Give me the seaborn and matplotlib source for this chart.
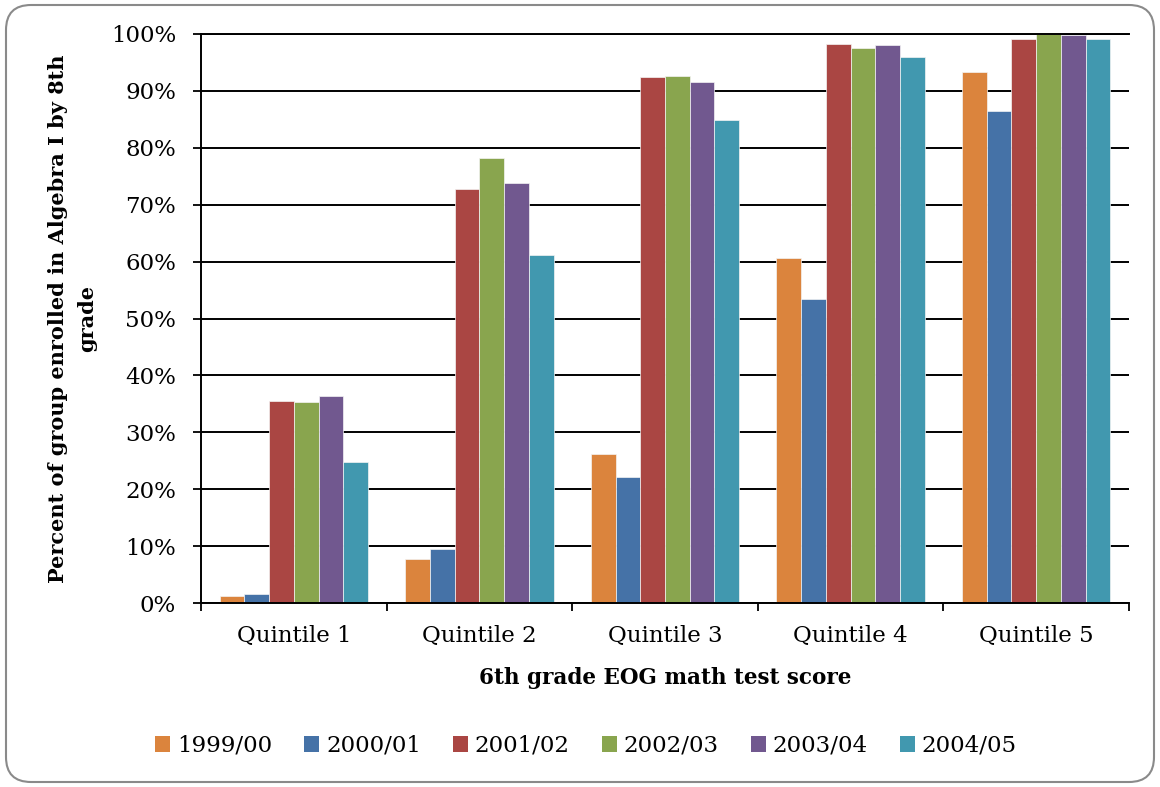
import matplotlib
matplotlib.use("Agg")
import matplotlib.pyplot as plt
from matplotlib.patches import FancyBboxPatch, Patch
from matplotlib.ticker import FuncFormatter
import seaborn as sns
import pandas as pd

categories = ["Quintile 1", "Quintile 2", "Quintile 3", "Quintile 4", "Quintile 5"]
years = ["1999/00", "2000/01", "2001/02", "2002/03", "2003/04", "2004/05"]
v1999 = [1.3, 7.7, 26.1, 60.7, 93.4]
v2000 = [1.6, 9.5, 22.1, 53.5, 86.4]
v2001 = [35.5, 72.7, 92.5, 98.3, 99.2]
v2002 = [35.4, 78.2, 92.7, 97.6, 100.0]
v2003 = [36.3, 73.8, 91.6, 98.1, 99.8]
v2004 = [24.8, 61.1, 84.8, 95.9, 99.2]
series = [v1999, v2000, v2001, v2002, v2003, v2004]
colors = ["#DB843D", "#4572A7", "#AA4643", "#89A54E", "#71588F", "#4198AF"]

rows = []
for y, vals in zip(years, series):
    for c, v in zip(categories, vals):
        rows.append({"Quintile": c, "Year": y, "Value": v})
df = pd.DataFrame(rows)

sns.set_theme(style="white")
plt.rcParams["font.family"] = ["DejaVu Serif"]
plt.rcParams["text.color"] = "black"
plt.rcParams["axes.labelcolor"] = "black"
plt.rcParams["xtick.color"] = "black"
plt.rcParams["ytick.color"] = "black"

W, H = 1160, 787
fig = plt.figure(figsize=(W / 100, H / 100), dpi=100)
ax = fig.add_axes([201 / W, (H - 603) / H, (1129 - 201) / W, (603 - 34) / H])

sns.barplot(data=df, x="Quintile", y="Value", hue="Year", order=categories,
            hue_order=years, palette=colors, width=0.8, gap=0, ax=ax,
            edgecolor="#f4f4f4", linewidth=0.5, saturation=1, legend=False)

ax.set_ylim(0, 100)
ax.set_xlim(-0.5, 4.5)
ax.set_yticks(range(0, 101, 10))
ax.yaxis.set_major_formatter(FuncFormatter(lambda v, p: f"{int(round(v))}%"))
ax.tick_params(axis="y", which="major", direction="out", length=6, width=1.3,
               color="black", labelcolor="black", labelsize=16.5, pad=12, left=True)
ax.set_xticks([i - 0.5 for i in range(6)])
ax.set_xticklabels([""] * 6)
ax.set_xticks(range(5), minor=True)
ax.set_xticklabels(categories, minor=True)
ax.tick_params(axis="x", which="major", direction="out", length=6, width=1.3,
               color="black", bottom=True)
ax.tick_params(axis="x", which="minor", length=0, labelsize=16.5, pad=16,
               labelcolor="black")

ax.yaxis.grid(True, color="black", linewidth=1.4)
ax.set_axisbelow(True)
for side in ["left", "bottom", "top"]:
    ax.spines[side].set_visible(True)
    ax.spines[side].set_color("black")
    ax.spines[side].set_linewidth(1.4)
ax.spines["right"].set_visible(False)

ax.set_xlabel("6th grade EOG math test score", fontsize=15.5, fontweight="bold",
              labelpad=14, color="black")
ax.set_ylabel("Percent of group enrolled in Algebra I by 8th\ngrade", fontsize=15,
              fontweight="bold", labelpad=10, multialignment="center",
              linespacing=1.55, color="black")

handles = [Patch(facecolor=c, edgecolor="none") for c in colors]
fig.legend(handles, years, loc="center", bbox_to_anchor=(586 / W, 1 - 746 / H),
           ncol=6, frameon=False, fontsize=16.5, handlelength=0.65,
           handleheight=0.65, handletextpad=0.3, columnspacing=1.4)

border = FancyBboxPatch((0.06, 0.05), 11.48, 7.77,
                        boxstyle="round,pad=0,rounding_size=0.25",
                        transform=fig.dpi_scale_trans, facecolor="none",
                        edgecolor="#8a8a8a", linewidth=1.5)
fig.patches.append(border)

fig.savefig("out.png", dpi=100, facecolor="white")
